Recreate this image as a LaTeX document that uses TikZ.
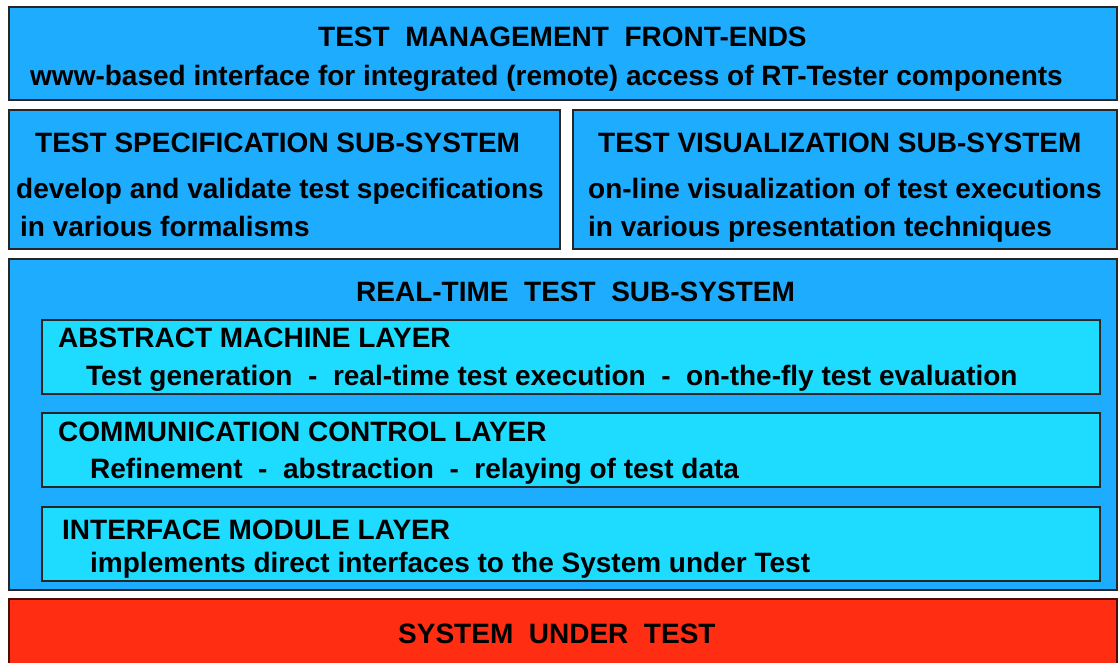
\documentclass[tikz,border=0pt]{standalone}
\usepackage{fontspec}
\setmainfont{Liberation Sans}
\definecolor{outerblue}{RGB}{30,172,255}
\definecolor{innercyan}{RGB}{30,220,255}
\definecolor{sutred}{RGB}{255,45,18}
\begin{document}
\begin{tikzpicture}[x=1pt,y=-1pt,
  panel/.style={draw=black!85,line width=1.1pt,fill=outerblue},
  layerbox/.style={draw=black!85,line width=1.1pt,fill=innercyan},
  redpanel/.style={draw=black!70!sutred,line width=1.1pt,fill=sutred},
  txt/.style={anchor=base west,inner sep=0pt,font=\fontsize{28}{33}\selectfont\bfseries}]
\useasboundingbox (0,0) rectangle (1118,662);
\fill[white] (0,0) rectangle (1118,662);
% panels
\draw[panel] (9,7) rectangle (1117,100);
\draw[panel] (9,110) rectangle (560,249);
\draw[panel] (573,110) rectangle (1117,249);
\draw[panel] (9,259) rectangle (1117,590);
\draw[layerbox] (42,320) rectangle (1100,394);
\draw[layerbox] (42,413) rectangle (1100,487);
\draw[layerbox] (42,507) rectangle (1100,581);
\draw[redpanel] (9,599) rectangle (1117,665);
% front-ends
\node[txt] (fe) at (318,46) {TEST\ \ MANAGEMENT\ \ FRONT-ENDS};
\node[txt] (fed) at (30,85) {www-based interface for integrated (remote) access of RT-Tester components};
% specification
\node[txt] (sp) at (35,152) {TEST SPECIFICATION SUB-SYSTEM};
\node[txt] (sp1) at (16,198) {develop and validate test specifications};
\node[txt] (sp2) at (20,236) {in various formalisms};
% visualization
\node[txt] (vi) at (598,152) {TEST VISUALIZATION SUB-SYSTEM};
\node[txt] (vi1) at (588,198) {on-line visualization of test executions};
\node[txt] (vi2) at (588,236) {in various presentation techniques};
% real-time test sub-system
\node[txt] (rt) at (356,301) {REAL-TIME\ \ TEST\ \ SUB-SYSTEM};
\node[txt] (am) at (58,347) {ABSTRACT MACHINE LAYER};
\node[txt] (am1) at (86,385) {Test generation\ \ -\ \ real-time test execution\ \ -\ \ on-the-fly test evaluation};
\node[txt] (cc) at (58,441) {COMMUNICATION CONTROL LAYER};
\node[txt] (cc1) at (90,478) {Refinement\ \ -\ \ abstraction\ \ -\ \ relaying of test data};
\node[txt] (im) at (62,539) {INTERFACE MODULE LAYER};
\node[txt] (im1) at (90,572) {implements direct interfaces to the System under Test};
% system under test
\node[txt] (sut) at (398,643) {SYSTEM\ \ UNDER\ \ TEST};
\end{tikzpicture}
\end{document}
